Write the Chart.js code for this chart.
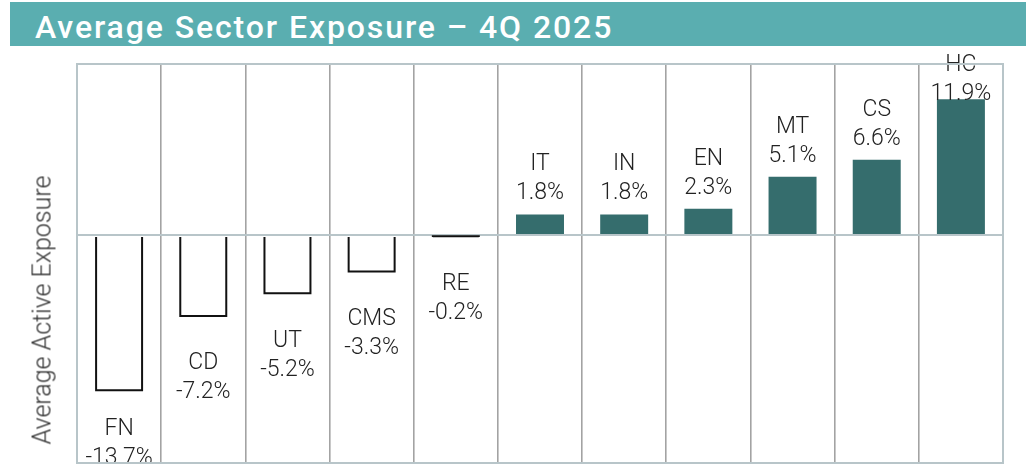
<!DOCTYPE html>
<html><head><meta charset="utf-8">
<script src="https://cdn.jsdelivr.net/npm/chart.js@4.4.1/dist/chart.umd.min.js"></script>
<style>
html,body{margin:0;padding:0;background:#fff;width:1026px;height:466px;overflow:hidden;}
#wrap{position:relative;width:1026px;height:466px;}
#title{position:absolute;left:10px;top:2px;width:1016px;height:44px;overflow:hidden;background:#5aaeb0;color:#fff;font:500 32px Roboto, sans-serif;letter-spacing:1.9px;line-height:50px;padding-left:25px;box-sizing:border-box;white-space:nowrap;}
#ytitle{position:absolute;left:42px;top:310px;transform:translate(-50%,-50%) rotate(-90deg);white-space:nowrap;font:300 25px Roboto, sans-serif;color:#333;}
canvas{position:absolute;left:0;top:0;}
</style></head>
<body><div id="wrap"><canvas id="c" width="1026" height="466"></canvas><div id="title">Average Sector Exposure – 4Q 2025</div><div id="ytitle">Average Active Exposure</div></div>
<script>
// ---- data ----
const categories = ['FN','CD','UT','CMS','RE','IT','IN','EN','MT','CS','HC'];
const exposure = [-13.7,-7.2,-5.2,-3.3,-0.2,1.8,1.8,2.3,5.1,6.6,11.9];
const yMin = -20;
const yMax = 15;

const POS = '#356d6d', BORDER = '#b8c5c9', VGRID = '#a3a3a3';
const LABEL_FONT = '300 23px Roboto, sans-serif';
const LINE_H = 29, CAP_H = 16.4;

// outline for negative (hollow) bars, drawn from the bar elements' own geometry
const outlinePlugin = {
  id: 'negOutline',
  afterDatasetsDraw(chart) {
    const ctx = chart.ctx;
    const meta = chart.getDatasetMeta(0);
    ctx.save();
    ctx.strokeStyle = '#111';
    ctx.lineWidth = 2;
    ctx.lineJoin = 'miter';
    meta.data.forEach((bar, i) => {
      if (exposure[i] >= 0) return;
      const p = bar.getProps(['x', 'y', 'base', 'width'], true);
      const l = p.x - p.width / 2 + 1, r = p.x + p.width / 2 - 1;
      ctx.beginPath();
      ctx.moveTo(l, p.base + 1);
      ctx.lineTo(l, p.y - 1);
      ctx.lineTo(r, p.y - 1);
      ctx.lineTo(r, p.base + 1);
      ctx.stroke();
    });
    ctx.restore();
  }
};

const labelPlugin = {
  id: 'barLabels',
  afterDatasetsDraw(chart) {
    const ctx = chart.ctx;
    const meta = chart.getDatasetMeta(0);
    ctx.save();
    ctx.font = LABEL_FONT;
    ctx.fillStyle = '#222';
    ctx.textAlign = 'center';
    ctx.textBaseline = 'alphabetic';
    meta.data.forEach((bar, i) => {
      const v = exposure[i];
      const txt = v.toFixed(1) + '%';
      let nameBase, valBase;
      if (v >= 0) {
        valBase = bar.y - 15;
        valBase = Math.max(valBase, 55 + CAP_H + LINE_H);
        nameBase = valBase - LINE_H;
      } else {
        nameBase = bar.y + 36 + CAP_H;
        valBase = nameBase + LINE_H;
        if (valBase > 464) { valBase = 464; nameBase = valBase - LINE_H; }
      }
      ctx.fillText(categories[i], bar.x, nameBase);
      ctx.fillText(txt, bar.x, valBase);
    });
    ctx.restore();
  }
};

const framePlugin = {
  id: 'frame',
  afterDraw(chart) {
    const a = chart.chartArea, ctx = chart.ctx;
    ctx.save();
    ctx.strokeStyle = BORDER;
    ctx.lineWidth = 2;
    ctx.strokeRect(a.left, a.top, a.right - a.left, a.bottom - a.top);
    ctx.restore();
  }
};

new Chart(document.getElementById('c'), {
  type: 'bar',
  data: {
    labels: categories,
    datasets: [{
      data: exposure,
      backgroundColor: exposure.map(v => v >= 0 ? POS : 'rgba(255,255,255,0)'),
      borderWidth: 0,
      categoryPercentage: 1,
      barPercentage: 0.57
    }]
  },
  options: {
    responsive: false,
    animation: false,
    devicePixelRatio: 1,
    layout: { padding: { left: 77, right: 23, top: 64, bottom: 3 } },
    plugins: { legend: { display: false }, tooltip: { enabled: false }, title: { display: false } },
    scales: {
      x: {
        ticks: { display: false },
        grid: { color: VGRID, lineWidth: 1.6, drawTicks: false, offset: true },
        border: { display: false }
      },
      y: {
        min: yMin, max: yMax,
        ticks: { display: false, stepSize: 5 },
        grid: { color: c => c.tick && c.tick.value === 0 ? BORDER : 'rgba(0,0,0,0)', lineWidth: 2, drawTicks: false },
        border: { display: false }
      }
    }
  },
  plugins: [outlinePlugin, labelPlugin, framePlugin]
});
</script>
</body></html>
